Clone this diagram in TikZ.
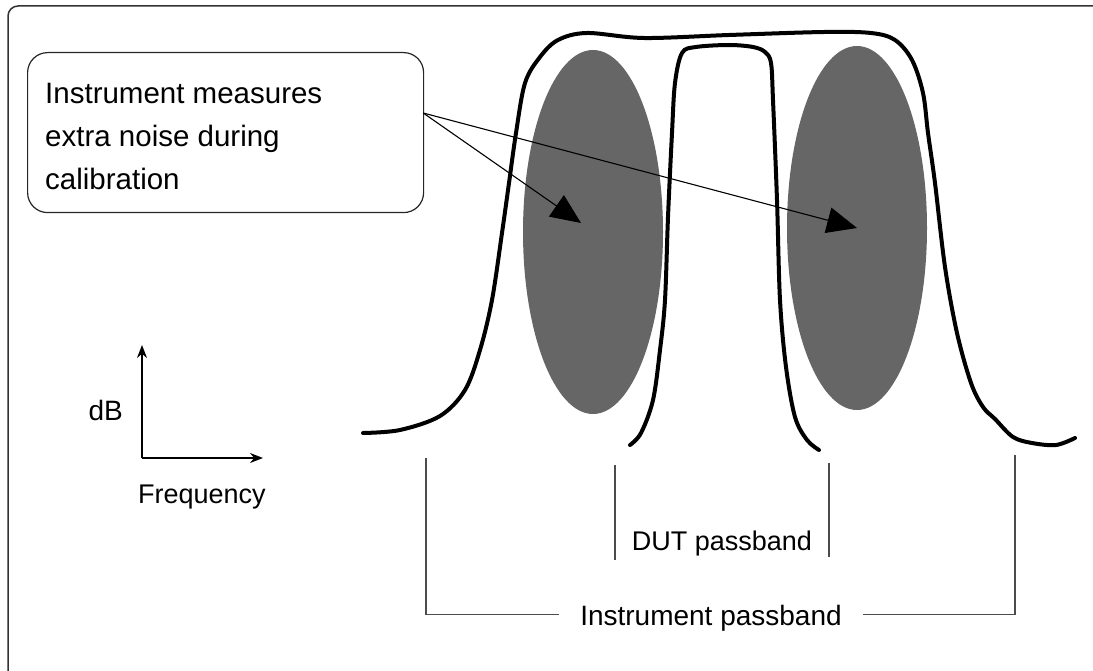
\documentclass[tikz,border=0pt]{standalone}
\usepackage{fontspec}
\setmainfont{Liberation Sans}
\usetikzlibrary{arrows.meta,shapes.geometric,calc}

\tikzset{
  frame/.style={draw=black!80, line width=1.5pt, rounded corners=10pt},
  callout/.style={draw=black!85, line width=1.2pt, rounded corners=20pt, inner sep=0pt},
  noise/.style={ellipse, fill=black!60, inner sep=0pt, minimum width=140pt, minimum height=364pt},
  resp/.style={line width=4pt, line cap=round, line join=round},
  pointer/.style={line width=1.1pt, -{Triangle[length=30pt,width=26pt]}},
  axis/.style={line width=1.3pt, -{Stealth[length=13pt,width=10pt]}},
  bracket/.style={draw=black!70, line width=1.2pt},
  lbl/.style={font=\fontsize{28}{43}\selectfont, inner sep=0pt, text depth=0pt}
}

\begin{document}
\begin{tikzpicture}[x=1pt,y=-1pt]
  \useasboundingbox (0,0) rectangle (1093,671);
  \draw[frame] (1093,6) -- (8,6) -- (8,671);

  % noise regions
  \node[noise] (noiseL) at (593,232) {};
  \node[noise] (noiseR) at (857,228) {};

  % instrument response
  \draw[resp] plot[smooth, tension=0.55] coordinates {
    (363,433) (400,430) (440,416) (465,390) (480,350) (492,300) (502,233)
    (509,183) (516,133) (525,83) (540,57) (558,40) (587,33) (644,38)
    (729,35) (824,32) (871,33) (895,40) (912,60) (923,93) (928,133)
    (935,183) (945,267) (957,333) (971,383) (983,407) (995,419)
    (1013,437) (1032,443) (1056,445) (1075,438)};
  % DUT response
  \draw[resp] plot[smooth, tension=0.55] coordinates {
    (630,445) (641,433) (653,400) (660,350) (665,300) (668,217) (672,133)
    (675,83) (682,53) (696,47) (729,45) (753,47) (765,52) (771,63)
    (773,100) (777,200) (780,300) (786,367) (795,417) (807,440) (819,450)};

  % callout
  \node[callout, anchor=north west, minimum width=396pt, minimum height=160pt] (note) at (27,52) {};
  \node[lbl, font=\fontsize{29.5}{43}\selectfont, anchor=north west, align=left] (noteText)
    at ($(note.north west)+(18,31)$)
    {Instrument measures\\extra noise during\\calibration};
  \coordinate (src) at ($(note.north east)+(-1,61)$);
  \draw[pointer] (src) -- ($(noiseL.center)+(-12,-9)$);
  \draw[pointer] (src) -- (noiseR.center);

  % axes
  \coordinate (origin) at (142,458);
  \coordinate (yTip) at (142,345);
  \coordinate (xTip) at (263,458);
  \draw[axis] (origin) -- (yTip);
  \draw[axis] (origin) -- (xTip);
  \node[lbl, anchor=base east] (dB) at (123,420) {dB};
  \node[lbl, font=\fontsize{27}{43}\selectfont, anchor=base west] (freq) at (138,503) {Frequency};

  % passbands
  \node[lbl, font=\fontsize{27}{43}\selectfont, anchor=base] (dut) at (722,550) {DUT passband};
  \foreach \x/\t/\b[count=\i] in {615/465/560, 829/463/557} {
    \coordinate (dTop\i) at (\x,\t);
    \coordinate (dBot\i) at (\x,\b);
    \draw[bracket] (dTop\i) -- (dBot\i);
  }
  \node[lbl, anchor=base, inner xsep=21pt] (instr) at (711,625) {Instrument passband};
  \coordinate (iL) at (426,458);
  \coordinate (iR) at (1015,455);
  \draw[bracket] (iL) |- (instr.west);
  \draw[bracket] (iR) |- (instr.east);
\end{tikzpicture}
\end{document}
